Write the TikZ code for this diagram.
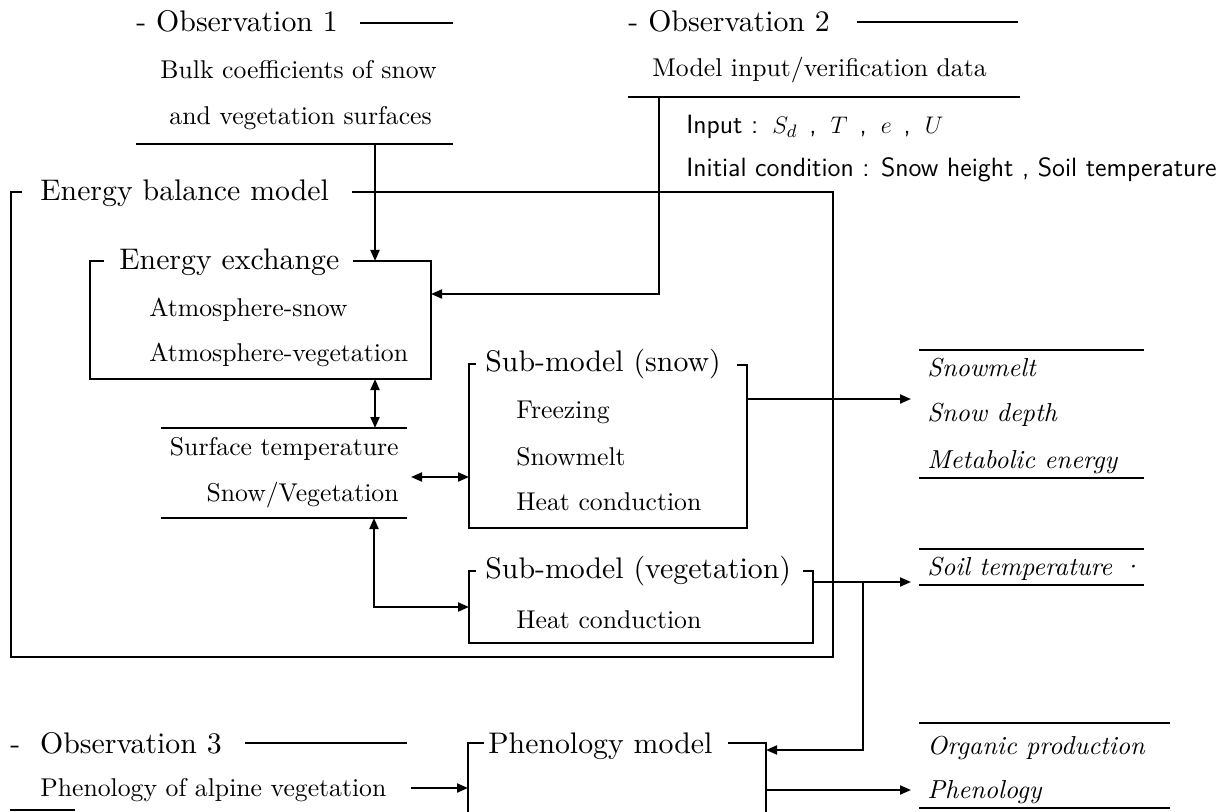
\documentclass[tikz,border=0pt]{standalone}
\usepackage{fontspec}
\setmainfont{lmroman10-regular.otf}[ItalicFont=lmroman10-italic.otf, BoldFont=lmroman10-bold.otf]
\usetikzlibrary{arrows.meta}
\tikzset{
 body/.style={font=\fontsize{12.85}{15}\selectfont, inner sep=0pt, yshift=-2pt},
 head/.style={font=\fontsize{14.9}{17}\selectfont, inner sep=0pt, yshift=-2pt},
 outtxt/.style={font=\fontsize{13.0}{15}\selectfont\itshape, inner sep=0pt, yshift=-2pt},
 sanstxt/.style={font=\fontsize{13.2}{15}\selectfont\sffamily, inner sep=0pt, yshift=-2pt},
 ln/.style={line width=1pt},
 arr/.style={ln, -{Triangle[length=5.5pt,width=4.5pt]}},
 darr/.style={ln, {Triangle[length=5.5pt,width=4.5pt]}-{Triangle[length=5.5pt,width=4.5pt]}},
}
\begin{document}
\begin{tikzpicture}[x=0.5pt,y=-0.5pt]
\useasboundingbox (0,0) rectangle (1229,812);
\clip (0,0) rectangle (1229,812);
% Observation 1
\node[head, anchor=mid west] (obs1) at (136,23) {- Observation 1};
\draw[ln] (360,23) -- (453,23);
\node[body, anchor=mid west] (bulk1) at (160,70) {Bulk coefficients of snow};
\node[body, anchor=mid west] (bulk2) at (169,116) {and vegetation surfaces};
\draw[ln] (136,144) -- (453,144);
\coordinate (obs1b) at (375,144);
% Energy balance model frame
\node[head, anchor=mid west] (ebm) at (40,192) {Energy balance model};
\draw[ln] (22,192) -- (11,192) -- (11,657) -- (833,657) -- (833,192) -- (352,192);
% Energy exchange
\node[head, anchor=mid west] (ee) at (119,261) {Energy exchange};
\draw[ln] (104,261) -- (90,261) -- (90,379) -- (431,379) -- (431,261) -- (353,261);
\coordinate (eetop) at (375,261);
\coordinate (eebot) at (375,379);
\coordinate (eeright) at (431,294);
\node[body, anchor=mid west] (as) at (149,308) {Atmosphere-snow};
\node[body, anchor=mid west] (av) at (149,353) {Atmosphere-vegetation};
\draw[arr] (obs1b) -- (eetop);
% Observation 2
\node[head, anchor=mid west] (obs2) at (628,23) {- Observation 2};
\draw[ln] (857,22) -- (1018,22);
\node[body, anchor=mid west] (mid) at (652,68) {Model input/verification data};
\draw[ln] (628,97) -- (1020,97);
\coordinate (obs2b) at (659,97);
\node[sanstxt, anchor=mid west] (inp) at (686,125) {Input :\hspace{7pt}$S_d$\hspace{6pt},\hspace{7pt}$T$\hspace{6pt},\hspace{7pt}$e$\hspace{6pt},\hspace{7pt}$U$};
\node[sanstxt, anchor=mid west] (ini) at (686,168) {Initial condition : Snow height , Soil temperature};
\draw[arr] (obs2b) |- (eeright);
% Surface temperature
\draw[ln] (161,428) -- (407,428);
\node[body, anchor=mid east] (st1) at (399,447) {Surface temperature};
\node[body, anchor=mid east] (st2) at (399,493) {Snow/Vegetation};
\draw[ln] (161,518) -- (407,518);
\coordinate (sttop) at (375,428);
\coordinate (stbot) at (374,518);
\coordinate (stright) at (411,477);
\draw[darr] (eebot) -- (sttop);
% Sub-model snow
\node[head, anchor=mid west] (sms) at (485,363) {Sub-model (snow)};
\draw[ln] (476,364) -- (469,364) -- (469,528) -- (747,528) -- (747,365) -- (737,365);
\coordinate (smsleft) at (469,477);
\coordinate (smsright) at (747,399);
\node[body, anchor=mid west] (frz) at (516,410) {Freezing};
\node[body, anchor=mid west] (smt) at (516,457) {Snowmelt};
\node[body, anchor=mid west] (hc1) at (516,502) {Heat conduction};
\draw[darr] (stright) -- (smsleft);
% Snow outputs
\coordinate (outs) at (911,399);
\draw[arr] (smsright) -- (outs);
\draw[ln] (919,350) -- (1144,350);
\node[outtxt, anchor=mid west] (o1) at (927,368) {Snowmelt};
\node[outtxt, anchor=mid west] (o2) at (927,413) {Snow depth};
\node[outtxt, anchor=mid west] (o3) at (927,460) {Metabolic energy};
\draw[ln] (919,478) -- (1144,478);
% Sub-model vegetation
\node[head, anchor=mid west] (smv) at (485,570) {Sub-model (vegetation)};
\draw[ln] (476,571) -- (469,571) -- (469,643) -- (813,643) -- (813,571) -- (803,571);
\coordinate (smvleft) at (469,607);
\coordinate (smvright) at (813,582);
\node[body, anchor=mid west] (hc2) at (516,620) {Heat conduction};
\draw[darr] (smvleft) -| (stbot);
\coordinate (soilin) at (911,582);
\draw[arr] (smvright) -- (soilin);
\coordinate (br) at (863,582);
\coordinate (phin) at (766,750);
\draw[arr] (br) |- (phin);
% Soil temperature output
\draw[ln] (919,549) -- (1144,549);
\node[outtxt, anchor=mid west] (soil) at (927,567) {Soil temperature ·};
\draw[ln] (919,585) -- (1144,585);
% Observation 3
\node[head, anchor=mid west] (obs3) at (10,745) {-\ \ Observation 3};
\draw[ln] (245,743) -- (407,743);
\node[body, anchor=mid west] (phalp) at (40,788) {Phenology of alpine vegetation};
\coordinate (phalpend) at (411,788);
\coordinate (phleft) at (468,788);
\draw[arr] (phalpend) -- (phleft);
\draw[ln] (10,810) -- (75,810);
% Phenology model
\node[head, anchor=mid west] (phm) at (488,745) {Phenology model};
\draw[ln] (484,743) -- (468,743) -- (468,815);
\draw[ln] (728,743) -- (766,743) -- (766,815);
\coordinate (phout) at (766,790);
\coordinate (phend) at (911,790);
\draw[arr] (phout) -- (phend);
% Phenology outputs
\draw[ln] (919,723) -- (1170,723);
\node[outtxt, anchor=mid west] (org) at (927,746) {Organic production};
\node[outtxt, anchor=mid west] (phen) at (927,790) {Phenology};
\draw[ln] (919,808) -- (1170,808);
\end{tikzpicture}
\end{document}
